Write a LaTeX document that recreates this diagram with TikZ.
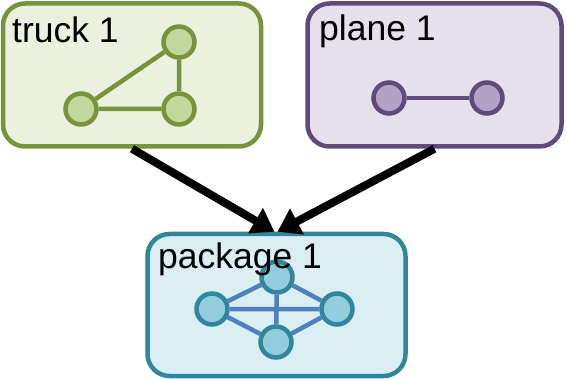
\documentclass[tikz,border=0pt]{standalone}
\usepackage{fontspec}
\setmainfont{Liberation Sans}
\usetikzlibrary{arrows.meta,calc}
\definecolor{trkfill}{HTML}{EBF1DE}
\definecolor{trkline}{HTML}{77933C}
\definecolor{trkdot}{HTML}{C3D69B}
\definecolor{plnfill}{HTML}{E6E0EC}
\definecolor{plnline}{HTML}{604A7B}
\definecolor{plndot}{HTML}{B3A2C7}
\definecolor{pkgfill}{HTML}{DBEEF4}
\definecolor{pkgline}{HTML}{31859C}
\definecolor{pkgdot}{HTML}{93CDDD}
\definecolor{pkgedge}{HTML}{4F81BD}
\begin{document}
\begin{tikzpicture}[x=1pt,y=-1pt,
  box/.style={draw, rounded corners=22pt, line width=4.5pt, inner sep=0pt},
  dot/.style={circle, draw, line width=4.5pt, minimum size=31pt, inner sep=0pt},
  edge/.style={line width=4.5pt},
  lbl/.style={font=\fontsize{35.5}{40}\selectfont, anchor=base west, inner sep=0pt},
  flow/.style={line width=8pt, -{Triangle[length=22pt,width=28pt]}}]
\useasboundingbox (0,0) rectangle (567,379);
% boxes
\node[box, draw=trkline, fill=trkfill, minimum width=258pt, minimum height=143pt] (truck) at (132,75) {};
\node[box, draw=plnline, fill=plnfill, minimum width=254pt, minimum height=143pt] (plane) at (434.5,75) {};
\node[box, draw=pkgline, fill=pkgfill, minimum width=258pt, minimum height=142pt] (package) at (276.5,305) {};
% truck graph
\node[dot, draw=trkline, fill=trkdot] (t1) at (179,42) {};
\node[dot, draw=trkline, fill=trkdot] (t2) at (81,109) {};
\node[dot, draw=trkline, fill=trkdot] (t3) at (179,109) {};
\draw[edge, trkline] (t1) -- (t2) (t1) -- (t3) (t2) -- (t3);
% plane graph
\node[dot, draw=plnline, fill=plndot] (p1) at (389,98) {};
\node[dot, draw=plnline, fill=plndot] (p2) at (487,98) {};
\draw[edge, plnline] (p1) -- (p2);
% package graph
\node[dot, draw=pkgline, fill=pkgdot] (k1) at (277,277) {};
\node[dot, draw=pkgline, fill=pkgdot] (k2) at (212,309) {};
\node[dot, draw=pkgline, fill=pkgdot] (k3) at (337,309) {};
\node[dot, draw=pkgline, fill=pkgdot] (k4) at (276,342) {};
\draw[edge, pkgedge] (k1) -- (k2) (k1) -- (k3) (k1) -- (k4) (k2) -- (k3) (k2) -- (k4) (k3) -- (k4);
% labels
\node[lbl] (tl) at (12,43) {truck 1};
\node[lbl] (pl) at (319,41) {plane 1};
\node[lbl] (kl) at (158,268) {package 1};
% arrows
\coordinate (inL) at ($(package.north)+(-2,0)$);
\coordinate (inR) at ($(package.north)+(1,0)$);
\draw[flow] (truck.south) -- (inL);
\draw[flow] (plane.south) -- (inR);
\end{tikzpicture}
\end{document}
